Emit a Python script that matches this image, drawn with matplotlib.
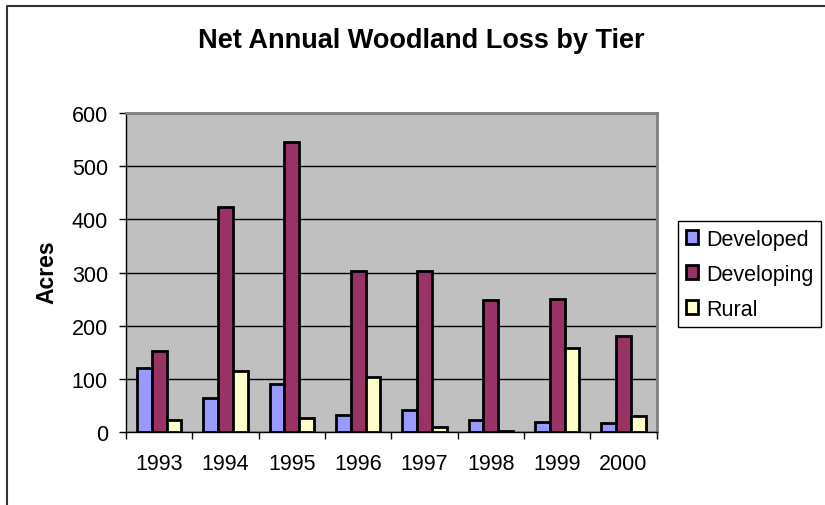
import numpy as np
import matplotlib.pyplot as plt
from matplotlib.lines import Line2D
from matplotlib.patches import Patch

years = ["1993", "1994", "1995", "1996", "1997", "1998", "1999", "2000"]
developed = [120, 64, 91, 33, 41, 23, 20, 17]
developing = [152, 423, 545, 304, 304, 249, 250, 181]
rural = [24, 115, 27, 103, 10, 2, 158, 31]
series_names = ["Developed", "Developing", "Rural"]
colors = ["#9999FF", "#993366", "#FFFFCC"]

plt.rcParams['font.family'] = ['Liberation Sans', 'DejaVu Sans']

W, H = 825, 506
fig = plt.figure(figsize=(W / 100, H / 100), dpi=100)
ax = fig.add_axes([126 / W, 1 - 433.3 / H, (656.7 - 126) / W, (433.3 - 114) / H])
ax.set_facecolor("#C0C0C0")

x = np.arange(len(years))
width = 1 / 4.5
for i, (vals, c) in enumerate(zip([developed, developing, rural], colors)):
    ax.bar(x + (i - 1) * width, vals, width, color=c, edgecolor="black",
           linewidth=2, zorder=3)

ax.set_ylim(0, 600)
ax.set_xlim(-0.5, len(years) - 0.5)
ax.set_yticks(np.arange(0, 601, 100))
ax.yaxis.grid(True, color="black", linewidth=1)
ax.set_axisbelow(True)

# boundaries get tick marks, centers get labels
ax.set_xticks(np.arange(-0.5, len(years), 1))
ax.set_xticklabels([])
ax.set_xticks(x, minor=True)
ax.set_xticklabels(years, minor=True)
ax.tick_params(axis="x", which="major", direction="out", length=5, width=1)
ax.tick_params(axis="x", which="minor", length=0, pad=15, labelsize=15.5)
ax.tick_params(axis="y", direction="out", length=5, width=1, pad=8, labelsize=15.5)

for s in ["left", "bottom"]:
    ax.spines[s].set_color("black")
    ax.spines[s].set_linewidth(1)
for s in ["top", "right"]:
    ax.spines[s].set_color("#808080")
    ax.spines[s].set_linewidth(2)

fig.text(47 / W, 1 - 272 / H, "Acres", fontsize=16.5, fontweight="bold",
         rotation=90, ha="center", va="center")
fig.text(421.5 / W, 1 - 41 / H, "Net Annual Woodland Loss by Tier",
         fontsize=19.5, fontweight="bold", ha="center", va="center")

handles = [Patch(facecolor=c, edgecolor="black", linewidth=2) for c in colors]
leg = fig.legend(handles, series_names, loc="upper left",
                 bbox_to_anchor=(678 / W, 1 - 222 / H), fontsize=15.5,
                 handlelength=0.6, handleheight=0.6, handletextpad=0.35,
                 borderpad=0.35, labelspacing=0.65, borderaxespad=0,
                 fancybox=False, framealpha=1, edgecolor="black")
leg.get_frame().set_linewidth(1)

# outer chart border (only top and left visible)
fig.add_artist(Line2D([7 / W, 7 / W, 1], [0, 1 - 7 / H, 1 - 7 / H],
                      transform=fig.transFigure, color="#333333", linewidth=1.5))

fig.savefig("out.png", dpi=100)
